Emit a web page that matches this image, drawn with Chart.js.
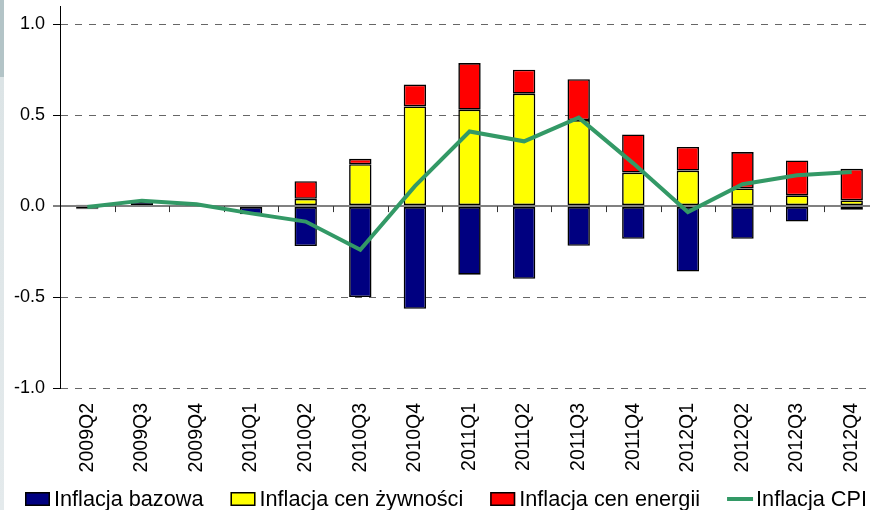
<!DOCTYPE html>
<html>
<head>
<meta charset="utf-8">
<script src="https://cdn.jsdelivr.net/npm/chart.js@4.4.0/dist/chart.umd.min.js"></script>
<style>
  html, body { margin: 0; padding: 0; background: #fff; overflow: hidden; }
  #wrap { position: absolute; left: 0; top: 0; width: 880px; height: 510px; }
  #strip { position: absolute; left: 0; top: 0; width: 4px; height: 510px;
           background: linear-gradient(#b3c4c7 0, #b3c4c7 77px, #dce4e6 77px, #e4eaec 510px); }
</style>
</head>
<body>
<div id="wrap"><canvas id="chart" width="880" height="510"></canvas></div>
<div id="strip"></div>
<script>
  // ── Data ──────────────────────────────────────────────────────────────────
  const quarters = ['2009Q2', '2009Q3', '2009Q4', '2010Q1', '2010Q2', '2010Q3', '2010Q4', '2011Q1',
                    '2011Q2', '2011Q3', '2011Q4', '2012Q1', '2012Q2', '2012Q3', '2012Q4'];
  const coreInfl   = [-0.012, 0.025, 0.005, -0.045, -0.22, -0.50, -0.565, -0.377, -0.40, -0.218, -0.18, -0.36, -0.18, -0.085, -0.02];
  const foodInfl   = [0.008, 0.0, 0.003, 0.0, 0.04, 0.23, 0.548, 0.53, 0.618, 0.473, 0.184, 0.195, 0.097, 0.059, 0.031];
  const energyInfl = [-0.006, 0.005, 0.0, 0.005, 0.097, 0.03, 0.12, 0.256, 0.132, 0.225, 0.21, 0.13, 0.20, 0.192, 0.174];
  const cpiInfl    = [-0.005, 0.03, 0.01, -0.04, -0.085, -0.24, 0.11, 0.41, 0.356, 0.486, 0.235, -0.033, 0.12, 0.169, 0.187];
  const yTicks = [-1, -0.5, 0, 0.5, 1];

  const FONT = '"Liberation Sans", Arial, sans-serif';
  Chart.defaults.font.family = FONT;
  Chart.defaults.color = '#000';

  // small tick marks on the zero line, at category boundaries
  const zeroTicks = {
    id: 'zeroTicks',
    beforeDatasetsDraw(chart) {
      const { ctx, scales: { x, y } } = chart;
      const y0 = y.getPixelForValue(0);
      ctx.save();
      ctx.strokeStyle = '#333';
      ctx.lineWidth = 1;
      for (let i = 0; i < quarters.length - 1; i++) {
        const bx = Math.round((x.getPixelForValue(i) + x.getPixelForValue(i + 1)) / 2) + 0.5;
        ctx.beginPath(); ctx.moveTo(bx, y0); ctx.lineTo(bx, y0 + 6); ctx.stroke();
      }
      ctx.restore();
    }
  };

  // legend along the bottom edge
  const bottomLegend = {
    id: 'bottomLegend',
    afterDraw(chart) {
      const ctx = chart.ctx;
      const yMid = 499;
      let x = 25;
      ctx.save();
      ctx.font = '21.7px ' + FONT;
      ctx.textBaseline = 'alphabetic';
      chart.data.datasets.forEach(ds => {
        if (ds.type === 'line') {
          ctx.strokeStyle = ds.borderColor;
          ctx.lineWidth = 4;
          ctx.beginPath(); ctx.moveTo(x, yMid); ctx.lineTo(x + 26, yMid); ctx.stroke();
        } else {
          ctx.fillStyle = ds.backgroundColor;
          ctx.fillRect(x, yMid - 7, 25, 14);
          ctx.strokeStyle = '#000';
          ctx.lineWidth = 1.5;
          ctx.strokeRect(x + 0.75, yMid - 6.25, 23.5, 12.5);
        }
        ctx.fillStyle = '#000';
        ctx.fillText(ds.label, x + 29, 506);
        x += 29 + ctx.measureText(ds.label).width + 27;
      });
      ctx.restore();
    }
  };

  const barStyle = { type: 'bar', borderColor: '#000', borderWidth: 1.6, borderSkipped: false,
                     barPercentage: 0.41, categoryPercentage: 1, order: 1, stack: 'parts' };

  new Chart(document.getElementById('chart'), {
    data: {
      labels: quarters,
      datasets: [
        { ...barStyle, label: 'Inflacja bazowa', data: coreInfl, backgroundColor: '#000080' },
        { ...barStyle, label: 'Inflacja cen żywności', data: foodInfl, backgroundColor: '#FFFF00' },
        { ...barStyle, label: 'Inflacja cen energii', data: energyInfl, backgroundColor: '#FF0000' },
        { type: 'line', label: 'Inflacja CPI', data: cpiInfl, borderColor: '#339966', backgroundColor: '#339966',
          borderWidth: 4, pointRadius: 0, tension: 0, order: 0, stack: 'cpi' },
      ],
    },
    options: {
      responsive: false,
      animation: false,
      layout: { padding: { top: 6, right: 1, bottom: 38, left: 0 } },
      plugins: { legend: { display: false }, tooltip: { enabled: false } },
      scales: {
        x: {
          stacked: true,
          grid: { display: false, drawTicks: false },
          border: { display: false },
          ticks: { minRotation: 90, maxRotation: 90, autoSkip: false, padding: 15, font: { size: 19.5 } },
          afterFit(s) { s.height = 84; s.paddingLeft = 0; s.paddingRight = 0; },
        },
        y: {
          stacked: true,
          min: -1,
          max: 1.1,
          afterBuildTicks(s) { s.ticks = yTicks.map(v => ({ value: v })); },
          afterFit(s) { s.width = 60; s.paddingTop = 0; s.paddingBottom = 0; },
          ticks: { padding: 8, font: { size: 18 }, callback: v => v.toFixed(1) },
          grid: {
            color: c => c.tick && c.tick.value === 0 ? '#808080' : '#666',
            lineWidth: c => c.tick && c.tick.value === 0 ? 2 : 1,
            tickColor: '#000', tickLength: 7, tickWidth: 1, tickBorderDash: [],
          },
          border: { display: true, color: '#000', width: 1,
                    dash: c => c.tick && c.tick.value === 0 ? [] : [7, 7] },
        },
      },
    },
    plugins: [zeroTicks, bottomLegend],
  });
</script>
</body>
</html>
